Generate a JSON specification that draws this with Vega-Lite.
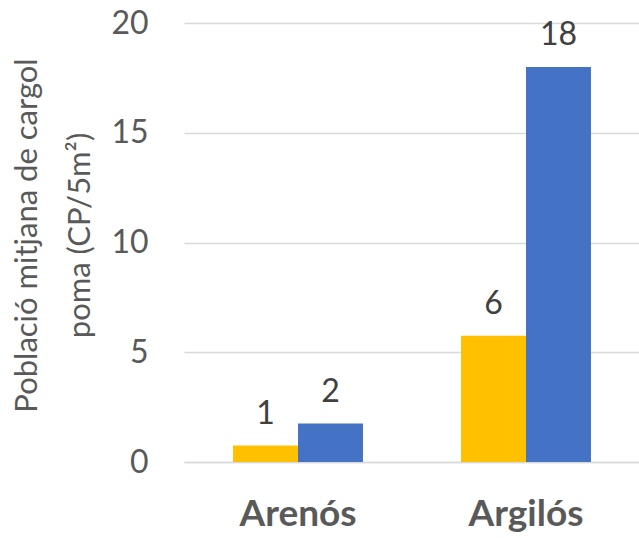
{
  "$schema": "https://vega.github.io/schema/vega-lite/v6.json",
  "width": 456,
  "height": 439,
  "autosize": {"type": "none"},
  "padding": {"left": 184, "top": 23, "right": 0, "bottom": 76},
  "background": "#ffffff",
  "config": {"font": "Lato", "view": {"stroke": null}},
  "data": {
    "values": [
      {"sol": "Arenós", "serie": "sèrie 1", "valor": 0.75},
      {"sol": "Arenós", "serie": "sèrie 2", "valor": 1.75},
      {"sol": "Argilós", "serie": "sèrie 1", "valor": 5.75},
      {"sol": "Argilós", "serie": "sèrie 2", "valor": 18}
    ]
  },
  "encoding": {
    "x": {
      "field": "sol",
      "type": "nominal",
      "sort": ["Arenós", "Argilós"],
      "scale": {"paddingInner": 0.43, "paddingOuter": 0.215},
      "axis": {
        "title": null,
        "labelAngle": 0,
        "labelFont": "Lato",
        "labelFontSize": 37,
        "labelFontWeight": "bold",
        "labelColor": "#595959",
        "labelPadding": 34,
        "labelBaseline": "top",
        "ticks": false,
        "domainColor": "#d9d9d9",
        "domainWidth": 1.5
      }
    },
    "xOffset": {"field": "serie", "type": "nominal", "sort": ["sèrie 1", "sèrie 2"]},
    "y": {
      "field": "valor",
      "type": "quantitative",
      "scale": {"domain": [0, 20], "nice": false},
      "axis": {
        "values": [0, 5, 10, 15, 20],
        "title": ["Població mitjana de cargol", "poma (CP/5m²)"],
        "titleFont": "Lato",
        "titleFontSize": 31,
        "titleFontWeight": "normal",
        "titleColor": "#595959",
        "titleLineHeight": 53,
        "titleAngle": -90,
        "titleAlign": "center",
        "titleBaseline": "top",
        "titleX": -172,
        "titleY": 212,
        "labelFont": "Lato",
        "labelFontSize": 32,
        "labelColor": "#595959",
        "labelPadding": 36,
        "ticks": false,
        "domain": false,
        "gridColor": "#d9d9d9",
        "gridWidth": 1.5
      }
    },
    "color": {
      "field": "serie",
      "type": "nominal",
      "scale": {"domain": ["sèrie 1", "sèrie 2"], "range": ["#FFC000", "#4472C4"]},
      "legend": null
    }
  },
  "layer": [
    {"mark": {"type": "bar"}},
    {
      "mark": {
        "type": "text",
        "baseline": "alphabetic",
        "dy": -22,
        "font": "Lato",
        "fontSize": 32,
        "color": "#404040"
      },
      "encoding": {
        "text": {"field": "valor", "type": "quantitative", "format": ".0f"},
        "color": {"value": "#404040"}
      }
    }
  ]
}
